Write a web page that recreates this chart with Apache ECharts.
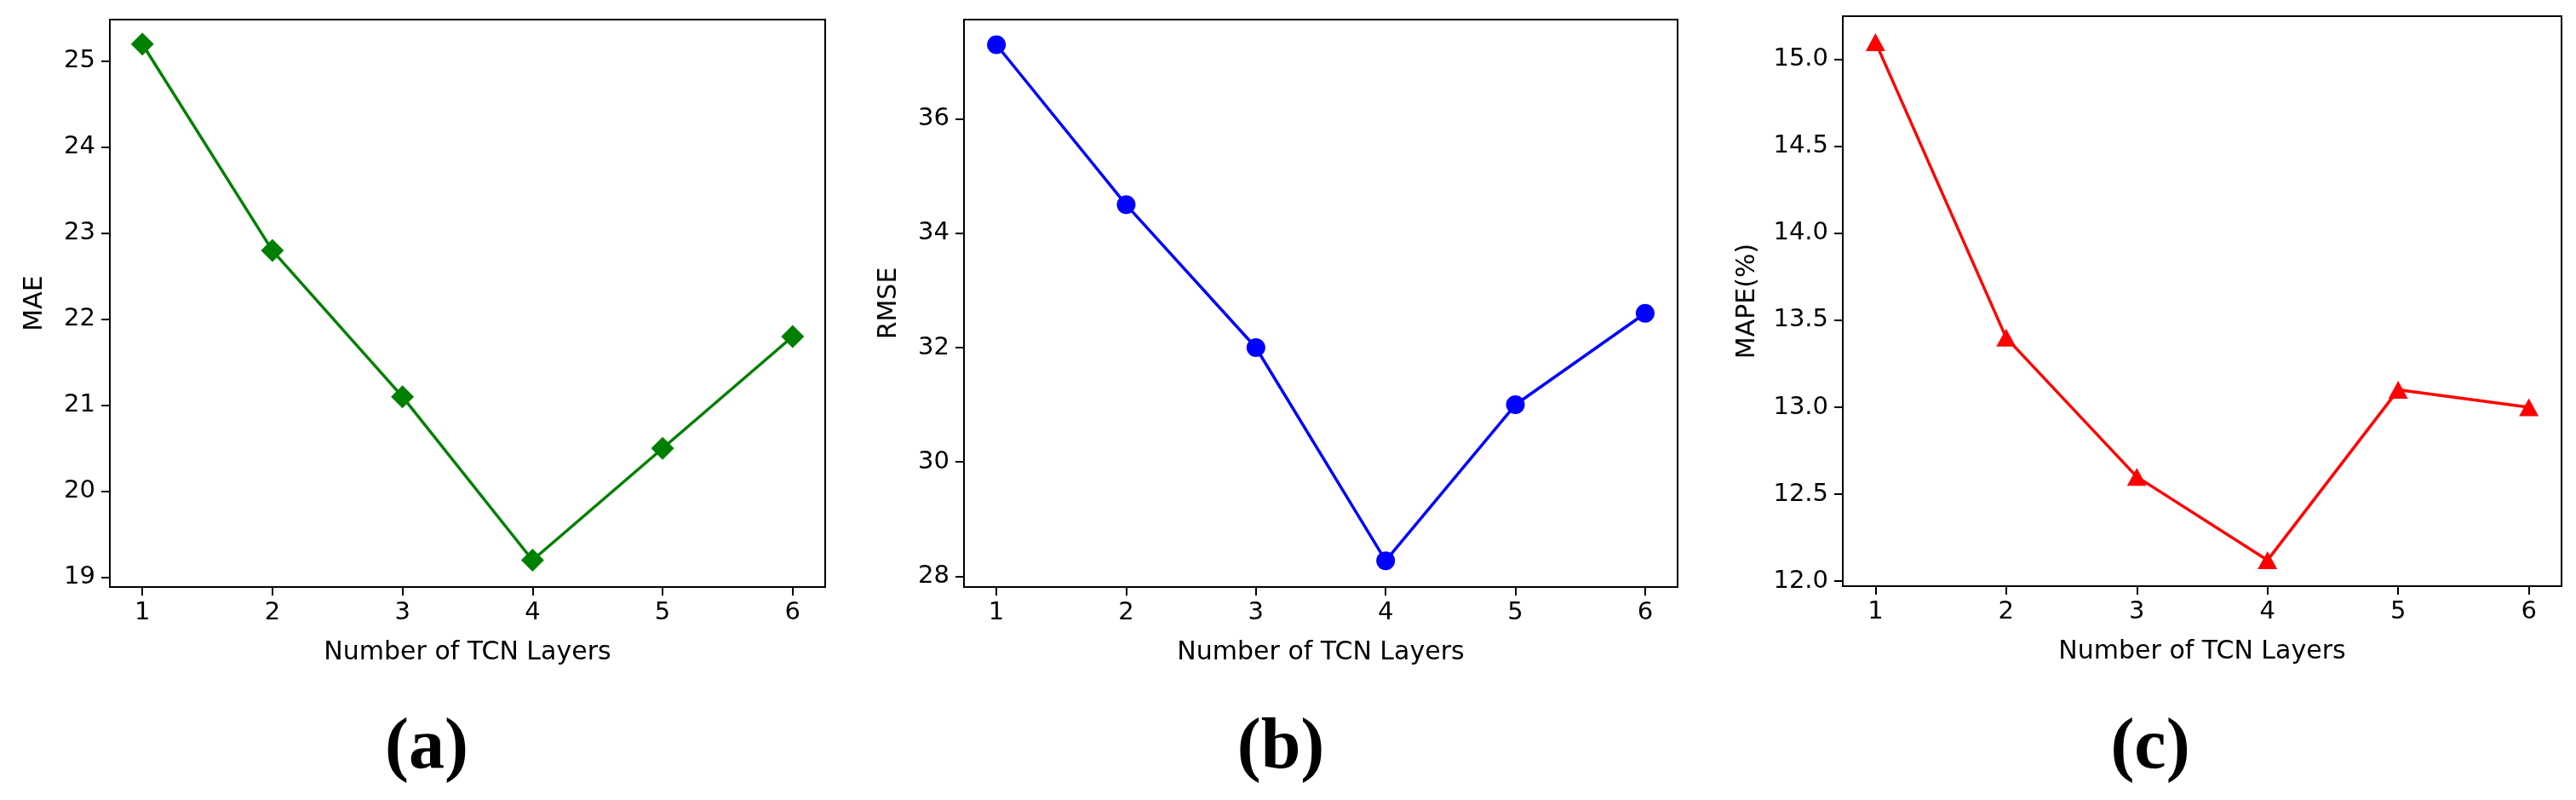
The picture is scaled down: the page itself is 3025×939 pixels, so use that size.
<!DOCTYPE html>
<html>
<head>
<meta charset="utf-8">
<script src="https://cdn.jsdelivr.net/npm/echarts@6/dist/echarts.min.js"></script>
<style>
html,body{margin:0;padding:0;background:#fff;}
#chart{width:3025px;height:939px;}
</style>
</head>
<body>
<div id="chart"></div>
<script>
// ---- data ----
const layers = [1, 2, 3, 4, 5, 6];
const maeValues = [25.2, 22.8, 21.1, 19.2, 20.5, 21.8];
const rmseValues = [37.3, 34.5, 32.0, 28.27, 31.0, 32.6];
const mapeValues = [15.1, 13.4, 12.6, 12.12, 13.1, 13.0];
const maeTicks = [19, 20, 21, 22, 23, 24, 25];
const rmseTicks = [28, 30, 32, 34, 36];
const mapeTicks = [12.0, 12.5, 13.0, 13.5, 14.0, 14.5, 15.0];
const xLabel = 'Number of TCN Layers';
const yLabels = ['MAE', 'RMSE', 'MAPE(%)'];
const panelLabels = ['(a)', '(b)', '(c)'];

// ---- layout ----
const FONT = 'DejaVu Sans';
const grids = [
  {left: 129, top: 23, width: 840, height: 666},
  {left: 1132, top: 23, width: 838, height: 666},
  {left: 2164, top: 19, width: 844, height: 669}
];
const yRanges = [[18.888, 25.485], [27.81, 37.74], [11.971, 15.249]];
const yTicks = [maeTicks, rmseTicks, mapeTicks];
const yFmt = [v => String(v), v => String(v), v => v.toFixed(1)];
const yNameGaps = [73, 73, 97];
const colors = ['#008000', '#0000ff', '#ff0000'];
const symbols = ['diamond', 'circle', 'triangle'];
const symbolSizes = [27, 22, [23, 21]];
const seriesData = [maeValues, rmseValues, mapeValues];
const labelCenters = [496, 1499, 2520];

const option = {
  animation: false,
  backgroundColor: '#fff',
  title: panelLabels.map((t, i) => ({
    text: t,
    left: labelCenters[i],
    top: 832,
    textAlign: 'center',
    textStyle: {fontFamily: 'Liberation Serif', fontWeight: 'bold', fontSize: 84, color: '#000'}
  })),
  grid: grids.map(g => Object.assign({show: true, borderColor: '#000', borderWidth: 2, backgroundColor: 'transparent'}, g)),
  xAxis: grids.map((g, i) => ({
    type: 'value',
    gridIndex: i,
    min: 0.75,
    max: 6.25,
    name: xLabel,
    nameLocation: 'middle',
    nameGap: 62,
    nameTextStyle: {fontFamily: FONT, fontSize: 30, color: '#000'},
    splitLine: {show: false},
    axisLine: {show: true, lineStyle: {color: '#000', width: 2}},
    axisTick: {show: true, inside: false, length: 10, lineStyle: {color: '#000', width: 2}, customValues: layers},
    axisLabel: {fontFamily: FONT, fontSize: 29, color: '#000', margin: 16, customValues: layers}
  })),
  yAxis: grids.map((g, i) => ({
    type: 'value',
    gridIndex: i,
    min: yRanges[i][0],
    max: yRanges[i][1],
    name: yLabels[i],
    nameLocation: 'middle',
    nameRotate: 90,
    nameGap: yNameGaps[i],
    nameTextStyle: {fontFamily: FONT, fontSize: 30, color: '#000'},
    splitLine: {show: false},
    axisLine: {show: true, lineStyle: {color: '#000', width: 2}},
    axisTick: {show: true, inside: false, length: 10, lineStyle: {color: '#000', width: 2}, customValues: yTicks[i]},
    axisLabel: {fontFamily: FONT, fontSize: 29, color: '#000', margin: 17, customValues: yTicks[i], formatter: yFmt[i]}
  })),
  series: seriesData.map((vals, i) => ({
    type: 'line',
    xAxisIndex: i,
    yAxisIndex: i,
    data: layers.map((x, j) => [x, vals[j]]),
    symbol: symbols[i],
    symbolSize: symbolSizes[i],
    showAllSymbol: true,
    lineStyle: {color: colors[i], width: 3.5},
    itemStyle: {color: colors[i]},
    z: 3
  }))
};

const chart = echarts.init(document.getElementById('chart'), null, {renderer: 'canvas'});
chart.setOption(option);
</script>
</body>
</html>
